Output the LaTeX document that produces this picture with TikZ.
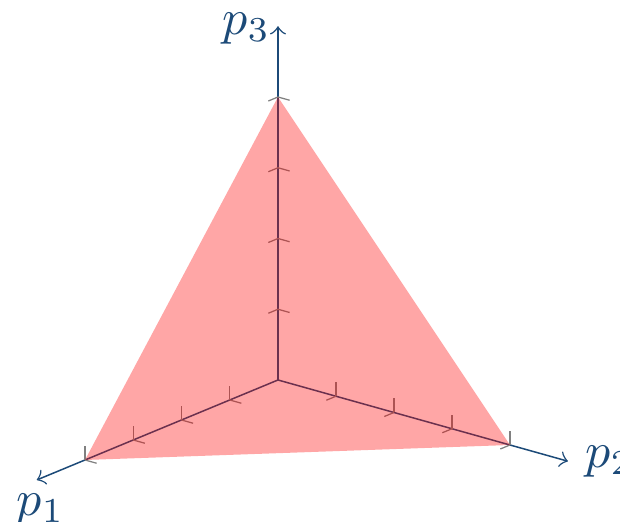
\documentclass[tikz,border=0pt]{standalone}
\usepackage{amsmath}
\usepackage{xcolor}
\usepackage{tikz}
\usetikzlibrary{positioning}
\definecolor{sblue}{HTML}{1C4A78}
\tikzset{
  saxis/.style={->, sblue, line width=0.3pt},
  stick/.style={gray, line width=0.25pt},
  sface/.style={fill=red, fill opacity=0.35},
  slbl/.style={sblue, inner sep=3.333pt},
}

\begin{document}
\begin{tikzpicture}[x={(-38.6pt,-16pt)}, y={(46.4pt,-13pt)}, z={(0pt,56.6pt)}]

  \useasboundingbox (-55.6pt,-28.4pt) rectangle (68.4pt,76pt);

  % --- ejes ---
  \coordinate (o) at (0,0,0);
  \coordinate (a1) at (1.25,0,0);
  \coordinate (a2) at (0,1.25,0);
  \coordinate (a3) at (0,0,1.25);
  \draw[saxis] (o) -- (a1);
  \draw[saxis] (o) -- (a2);
  \draw[saxis] (o) -- (a3);
  \node[slbl, below=-0.8pt of a1, xshift=0.8pt] (l1) {$p_1$};
  \node[slbl, right=0pt of a2] (l2) {$p_2$};
  \node[slbl, left=-2pt of a3, yshift=-0.4pt] (l3) {$p_3$};

  % marcas
  \foreach \t in {0.25,0.5,0.75,1} {
    \draw[stick] (\t,0,0) -- (\t,0,0.05);
    \draw[stick] (\t,0,0) -- (\t,0.05,0);
    \draw[stick] (0,\t,0) -- (0,\t,0.05);
    \draw[stick] (0,\t,0) -- (0.05,\t,0);
    \draw[stick] (0,0,\t) -- (0.05,0,\t);
    \draw[stick] (0,0,\t) -- (0,0.05,\t);
  }

  % simplex
  \coordinate (v1) at (1,0,0);
  \coordinate (v2) at (0,1,0);
  \coordinate (v3) at (0,0,1);
  \fill[sface] (v1) -- (v2) -- (v3) -- cycle;

\end{tikzpicture}
\end{document}
